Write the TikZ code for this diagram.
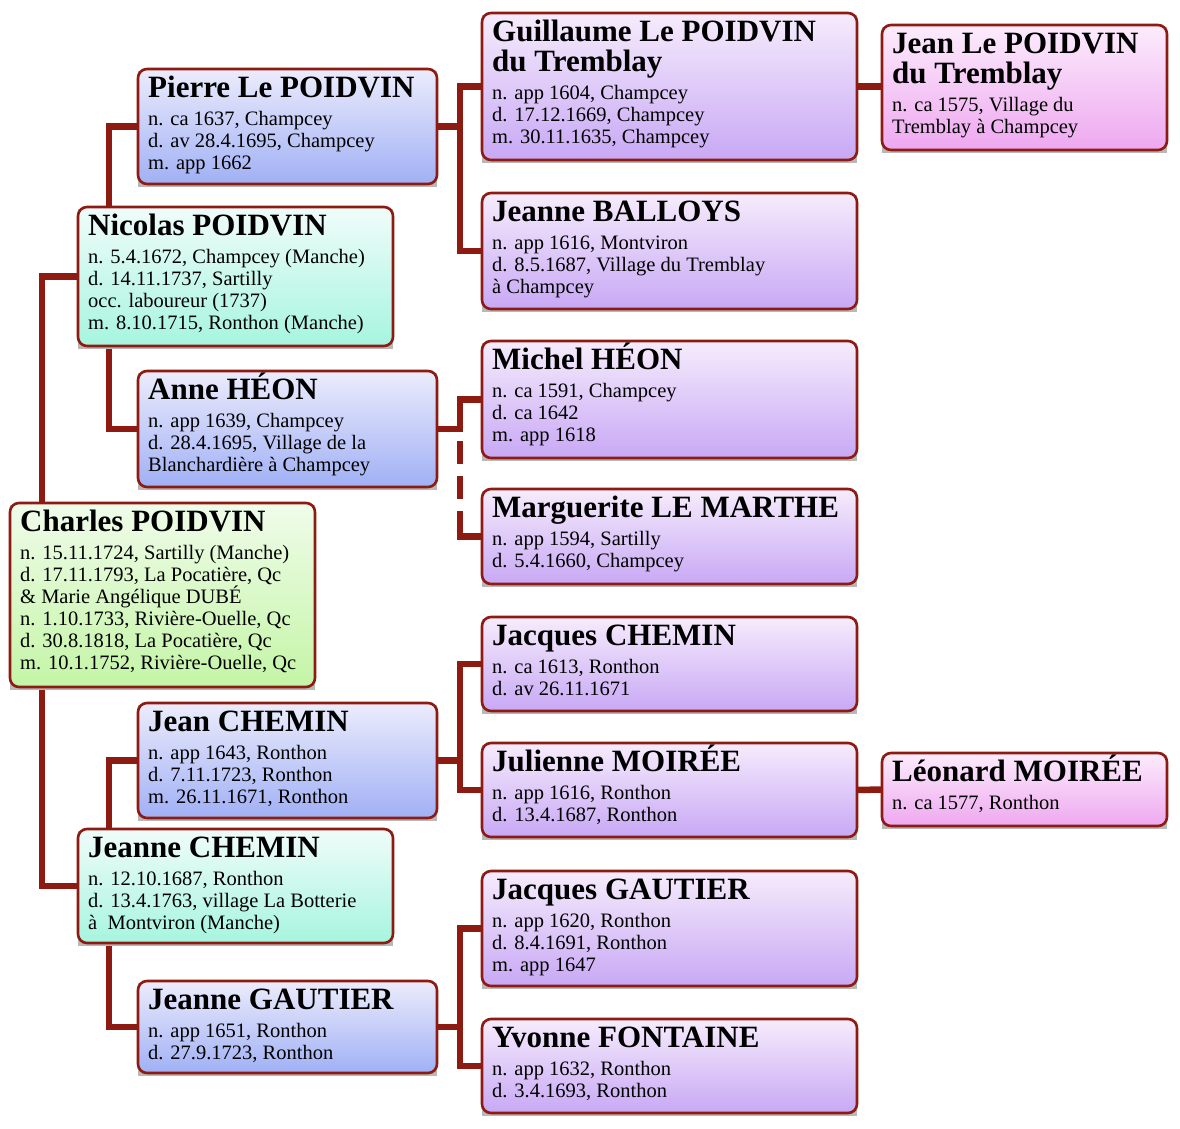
\documentclass[tikz,border=0pt]{standalone}
\usepackage{fontspec}
\setmainfont{Liberation Serif}
\usetikzlibrary{calc,backgrounds}
\definecolor{linec}{RGB}{142,27,18}
\definecolor{grT}{RGB}{240,252,234}\definecolor{grB}{RGB}{196,245,166}
\definecolor{cyT}{RGB}{240,252,250}\definecolor{cyB}{RGB}{166,245,222}
\definecolor{blT}{RGB}{236,236,252}\definecolor{blB}{RGB}{160,176,245}
\definecolor{puT}{RGB}{246,236,252}\definecolor{puB}{RGB}{200,168,245}
\definecolor{piT}{RGB}{252,236,252}\definecolor{piB}{RGB}{238,168,240}
\newcommand\nmf{\bfseries\fontsize{31}{30}\selectfont\spaceskip=0pt\xspaceskip=0pt\rule{0pt}{29pt}}
\newcommand\dtf{\par\vspace{6pt}\normalfont\fontsize{20.5}{22}\selectfont\spaceskip=0pt\xspaceskip=0pt}
\tikzset{
  pbox/.style={draw=linec,line width=2.6pt,rounded corners=9pt,inner sep=0pt,outer sep=0pt},
  ptext/.style={anchor=north west,inner sep=0pt,align=left},
  shadowc/.style={fill=black!28},
  green/.style={top color=grT,bottom color=grB},
  cyan/.style={top color=cyT,bottom color=cyB},
  blue/.style={top color=blT,bottom color=blB},
  purple/.style={top color=puT,bottom color=puB},
  pink/.style={top color=piT,bottom color=piB},
  conn/.style={draw=linec,line width=6.5pt},
}
\newcommand\person[7]{%
  \fill[shadowc] (#3,#4+1.5) rectangle (#5,#6+2.5);
  \node[pbox,#2,anchor=north west,minimum width={#5-#3},minimum height={#6-#4}] (#1) at (#3,#4) {};
  \node[ptext,text width={#5-#3-14}] (#1-t) at (#3+10,#4-1) {#7\par};
}
\begin{document}
\begin{tikzpicture}[x=1pt,y=-1pt]
\useasboundingbox (0,0) rectangle (1180,1128);
% generation 1
\person{charles}{green}{10}{503}{315}{687}{\nmf Charles POIDVIN\dtf n. 15.11.1724, Sartilly (Manche)\\d. 17.11.1793, La Pocatière, Qc\\\& Marie Angélique DUBÉ\\n. 1.10.1733, Rivière-Ouelle, Qc\\d. 30.8.1818, La Pocatière, Qc\\m. 10.1.1752, Rivière-Ouelle, Qc}
% generation 2
\person{nicolas}{cyan}{78}{207}{393}{346}{\nmf Nicolas POIDVIN\dtf n. 5.4.1672, Champcey (Manche)\\d. 14.11.1737, Sartilly\\occ. laboureur (1737)\\m. 8.10.1715, Ronthon (Manche)}
\person{jeanneC}{cyan}{78}{829}{393}{943}{\nmf Jeanne CHEMIN\dtf n. 12.10.1687, Ronthon\\d. 13.4.1763, village La Botterie\\à\ \ Montviron (Manche)}
% generation 3
\person{pierre}{blue}{138}{69}{437}{184}{\nmf Pierre Le POIDVIN\dtf n. ca 1637, Champcey\\d. av 28.4.1695, Champcey\\m. app 1662}
\person{anne}{blue}{138}{371}{437}{487}{\nmf Anne HÉON\dtf n. app 1639, Champcey\\d. 28.4.1695, Village de la\\Blanchardière à Champcey}
\person{jeanC}{blue}{138}{703}{437}{818}{\nmf Jean CHEMIN\dtf n. app 1643, Ronthon\\d. 7.11.1723, Ronthon\\m. 26.11.1671, Ronthon}
\person{jeanneG}{blue}{138}{981}{437}{1073}{\nmf Jeanne GAUTIER\dtf n. app 1651, Ronthon\\d. 27.9.1723, Ronthon}
% generation 4
\person{guillaume}{purple}{482}{13}{857}{160}{\nmf Guillaume Le POIDVIN\\du Tremblay\dtf n. app 1604, Champcey\\d. 17.12.1669, Champcey\\m. 30.11.1635, Champcey}
\person{balloys}{purple}{482}{193}{857}{309}{\nmf Jeanne BALLOYS\dtf n. app 1616, Montviron\\d. 8.5.1687, Village du Tremblay\\à Champcey}
\person{michel}{purple}{482}{341}{857}{458}{\nmf Michel HÉON\dtf n. ca 1591, Champcey\\d. ca 1642\\m. app 1618}
\person{marguerite}{purple}{482}{489}{857}{584}{\nmf Marguerite LE MARTHE\dtf n. app 1594, Sartilly\\d. 5.4.1660, Champcey}
\person{jacquesC}{purple}{482}{617}{857}{711}{\nmf Jacques CHEMIN\dtf n. ca 1613, Ronthon\\d. av 26.11.1671}
\person{julienne}{purple}{482}{743}{857}{837}{\nmf Julienne MOIRÉE\dtf n. app 1616, Ronthon\\d. 13.4.1687, Ronthon}
\person{jacquesG}{purple}{482}{871}{857}{986}{\nmf Jacques GAUTIER\dtf n. app 1620, Ronthon\\d. 8.4.1691, Ronthon\\m. app 1647}
\person{yvonne}{purple}{482}{1019}{857}{1113}{\nmf Yvonne FONTAINE\dtf n. app 1632, Ronthon\\d. 3.4.1693, Ronthon}
% generation 5
\person{jeanLP}{pink}{882}{25}{1167}{150}{\nmf Jean Le POIDVIN\\du Tremblay\dtf n. ca 1575, Village du\\Tremblay à Champcey}
\person{leonard}{pink}{882}{753}{1167}{826}{\nmf Léonard MOIRÉE\dtf n. ca 1577, Ronthon}
% connectors
\coordinate (annek) at ($(anne.east)+(23,0)$);
\begin{pgfonlayer}{background}
\fill[white] (0,0) rectangle (1180,1128);
\draw[conn] (nicolas.west) -- ++(-36,0) |- (jeanneC.west);
\draw[conn] (pierre.west) -- ++(-29,0) |- (anne.west);
\draw[conn] (jeanC.west) -- ++(-29,0) |- (jeanneG.west);
\draw[conn] (pierre.east) -- ++(23,0);
\draw[conn] (guillaume.west) -- ++(-22,0) |- (balloys.west);
\draw[conn] (anne.east) -| ($(michel.west)+(-22,0)$) -- (michel.west);
\draw[conn,dash pattern=on 23pt off 12pt,dash phase=23pt] (annek) -- (annek |- marguerite.west);
\draw[conn] ($(marguerite.west)+(-25.25,0)$) -- (marguerite.west);
\draw[conn] (jeanC.east) -- ++(23,0);
\draw[conn] (jacquesC.west) -- ++(-22,0) |- (julienne.west);
\draw[conn] (jeanneG.east) -- ++(23,0);
\draw[conn] (jacquesG.west) -- ++(-22,0) |- (yvonne.west);
\draw[conn] (guillaume.east) -- (guillaume.east -| jeanLP.west);
\draw[conn] (julienne.east) -- (leonard.west);
\end{pgfonlayer}
\end{tikzpicture}
\end{document}
